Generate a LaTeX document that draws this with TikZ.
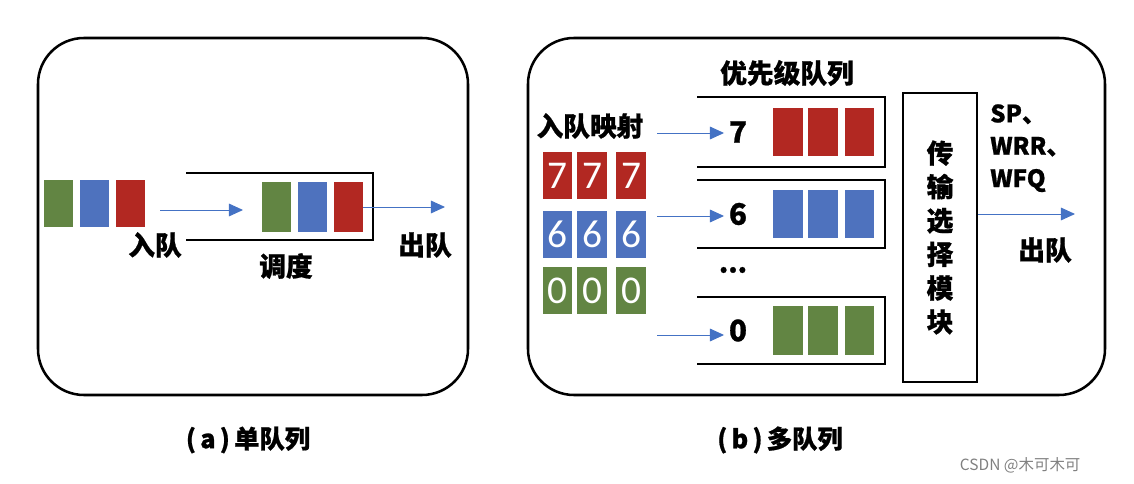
\documentclass[tikz,border=0pt]{standalone}
\usepackage{fontspec}
\newfontfamily\cjkfont{Noto Sans CJK SC}[BoldFeatures={FakeBold=0.8}]
\newfontfamily\digitfont{Carlito}
\usetikzlibrary{arrows.meta,positioning}
\definecolor{pktgreen}{RGB}{98,133,67}
\definecolor{pktblue}{RGB}{78,114,190}
\definecolor{pktred}{RGB}{178,40,34}
\definecolor{flowblue}{RGB}{68,114,196}

\begin{document}
\begin{tikzpicture}[
    x=0.025cm, y=-0.025cm,
    panel/.style={draw, line width=1.8pt, rounded corners=1.15cm},
    queue/.style={draw, line width=2pt},
    pkt/.style={rectangle, minimum width=0.73cm, minimum height=1.18cm, inner sep=0pt},
    cell/.style={pkt, font=\digitfont\fontsize{28}{28}\selectfont, text=white},
    flow/.style={draw=flowblue, line width=0.7pt, -{Triangle[length=10pt,width=9pt]}},
    lbl/.style={font=\cjkfont\bfseries\fontsize{19}{19}\selectfont, inner sep=0pt},
    qnum/.style={font=\cjkfont\bfseries\fontsize{21}{21}\selectfont}
]
\useasboundingbox (0,0) rectangle (1134,484);

% panels
\draw[panel] (38,38) rectangle (468,395);
\draw[panel] (528,38) rectangle (1105,395);

% (a) single queue
\foreach \c [count=\i] in {pktgreen,pktblue,pktred}
    \node[pkt, fill=\c] (a\i) at ({58.5+36*(\i-1)},203.5) {};
\draw[queue] (186,173) -- (373,173) -- (373,240) -- (186,240);
\foreach \c [count=\i] in {pktgreen,pktblue,pktred}
    \node[pkt, fill=\c, minimum height=1.25cm] (qa\i) at ({276.5+36*(\i-1)},207) {};
\coordinate (enqa) at (160,210);
\coordinate (enqb) at (243,210);
\coordinate (deqa) at (445,207);
\draw[flow] (enqa) -- (enqb);
\draw[flow] (qa3.east) -- (deqa);
\node[lbl] (inq) at (155,245) {入队};
\node[lbl] (sched) at (286,266) {调度};
\node[lbl] (outq) at (425,245) {出队};

% (b) multi queue
\node[lbl] (prio) at (787,73) {优先级队列};
\node[lbl] (map) at (590,126) {入队映射};
\foreach \n/\c/\y [count=\r] in {7/pktred/175.5, 6/pktblue/234.5, 0/pktgreen/290.5}
    \foreach \x [count=\k] in {557.5,592,631}
        \node[cell, fill=\c] (m\r\k) at (\x,\y) {\n};

\foreach \n/\c/\t/\b in {7/pktred/97/167, 6/pktblue/180/248, 0/pktgreen/297/364}{
    \draw[queue] (697,\t) -- (885,\t) -- (885,\b) -- (697,\b);
    \node[qnum] (q\n) at (738,{(\t+\b)/2}) {\n};
    \foreach \x [count=\k] in {788,823,859.5}
        \node[pkt, fill=\c, minimum height=1.2cm] (p\n\k) at (\x,{(\t+\b)/2}) {};
}
\node[lbl] (dots) at (733,270) {\textbf{...}};

\coordinate (map7) at (657,133);
\coordinate (map6) at (657,216);
\coordinate (map0) at (657,335);
\draw[flow] (map7) -- (map7 -| q7.west);
\draw[flow] (map6) -- (map6 -| q6.west);
\draw[flow] (map0) -- (map0 -| q0.west);

\node[draw, line width=2pt, minimum width=1.85cm, minimum height=7.225cm,
      align=center, font=\cjkfont\bfseries\fontsize{19}{24}\selectfont]
    (sel) at (940,237.5) {传\\输\\选\\择\\模\\块};
\coordinate (outb) at (1075,214);
\draw[flow] (sel.east |- outb) -- (outb);
\node[lbl, anchor=north west, align=left, font=\cjkfont\bfseries\fontsize{17}{23}\selectfont]
    (algo) at (990,104) {SP、\\WRR、\\WFQ};
\node[lbl] (outb lbl) at (1045,250) {出队};

% captions
\node[lbl, font=\cjkfont\bfseries\fontsize{18}{18}\selectfont] (capa) at (248,440) {(\,a\,)\,单队列};
\node[lbl, font=\cjkfont\bfseries\fontsize{18}{18}\selectfont] (capb) at (780,440) {(\,b\,)\,多队列};
\node[font=\cjkfont\fontsize{11}{11}\selectfont, text=gray, anchor=west] (mark) at (955,465) {CSDN @木可木可};
\end{tikzpicture}
\end{document}
